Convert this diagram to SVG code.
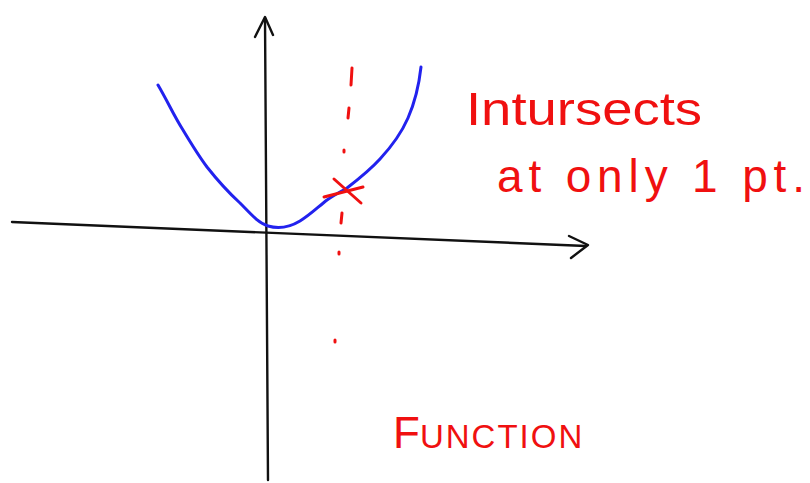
<svg xmlns="http://www.w3.org/2000/svg" width="810" height="483" viewBox="0 0 810 483">
<style>
.ax{fill:none;stroke:#111;stroke-width:2.4;stroke-linecap:round;stroke-linejoin:round}
.curve{fill:none;stroke:#2222ee;stroke-width:3;stroke-linecap:round;stroke-linejoin:round}
.red{fill:none;stroke:#f01010;stroke-width:3;stroke-linecap:round}
.lbl{fill:#f01010;font-family:"Liberation Sans","DejaVu Sans",sans-serif}
</style>
<rect width="810" height="483" fill="#fff"/>
<g id="axes">
<path class="ax" d="M12,222 L586,246"/>
<path class="ax" d="M569,236 L588,245 L571,258"/>
<path class="ax" d="M268,480 L265,18"/>
<path class="ax" d="M255,37 L265,17 L273,35"/>
</g>
<g id="parabola">
<path class="curve" d="M158,85 C168,102 174,116 183,130 C192,145 198,155 207,167 C218,181 228,192 240,203 C250,213 258,223 268,226 C278,229 290,227 300,221 C310,215 318,207 327,200 C334,195 340,192 347,188 C360,178 370,170 380,159 C392,146 401,134 408,118 C415,102 419,85 421,67"/>
</g>
<g id="vertical-line">
<path class="red" d="M352,68 L351,85"/>
<path class="red" d="M349,108 L348,118"/>
<path class="red" d="M344,150 L344,152"/>
<path class="red" d="M342,213 L341,223"/>
<path class="red" d="M339,252 L339,254"/>
<path class="red" d="M335,340 L335,342"/>
</g>
<g id="intersection">
<path class="red" d="M324,197 L363,187"/>
<path class="red" d="M334,179 L361,203"/>
</g>
<g id="label-intersects">
<text class="lbl" x="466" y="125" font-size="46" textLength="236" lengthAdjust="spacingAndGlyphs">Intursects</text>
<text class="lbl" x="497" y="192" font-size="46" textLength="308" lengthAdjust="spacing">at only 1 pt.</text>
</g>
<g id="label-function">
<text class="lbl" x="393" y="448"><tspan font-size="44">F</tspan><tspan font-size="33" letter-spacing="2">UNCTION</tspan></text>
</g>
</svg>
